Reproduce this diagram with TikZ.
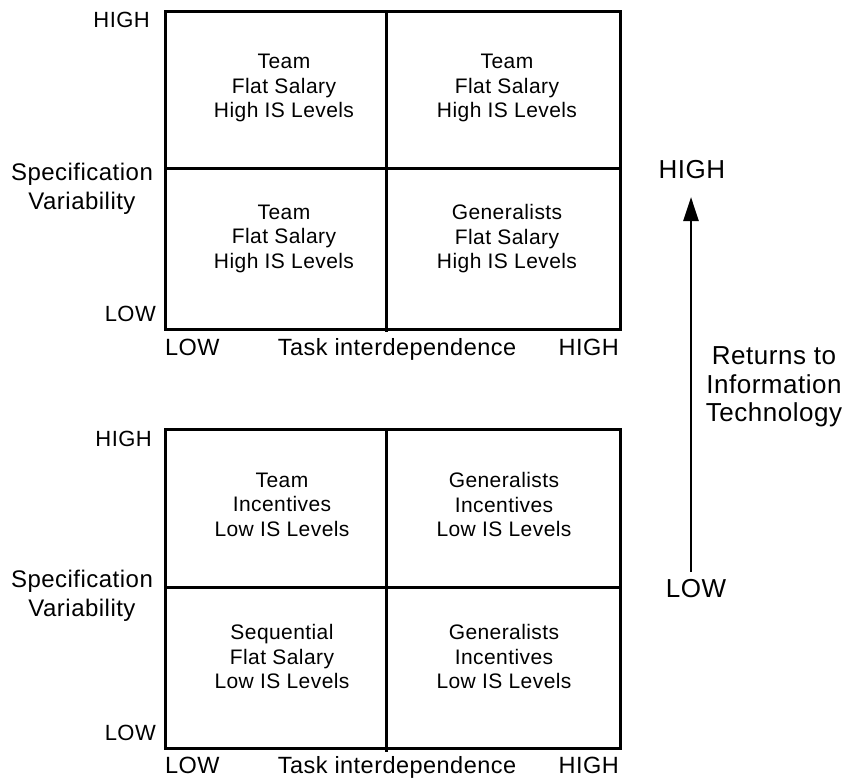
\documentclass[tikz,border=0pt]{standalone}
\usepackage{fontspec}
\setmainfont[LetterSpace=2]{Liberation Sans}
\usetikzlibrary{arrows.meta}
\begin{document}
\begin{tikzpicture}[x=1pt,y=-1pt,
  grid/.style={line width=3pt, line join=miter, line cap=rect},
  cell/.style={align=center, anchor=north, inner sep=0pt, font=\fontsize{21}{24.5}\selectfont},
  side/.style={inner sep=0pt, anchor=base east, font=\fontsize{22}{26}\selectfont},
  spec/.style={align=center, anchor=north, inner sep=0pt, font=\fontsize{24}{29}\selectfont},
  axis/.style={inner sep=0pt, font=\fontsize{23.5}{26}\selectfont},
  rlab/.style={inner sep=0pt, font=\fontsize{26}{28.5}\selectfont},
  arr/.style={line width=2.7pt, -{Triangle[length=24pt,width=15pt]}}]
\useasboundingbox (0,0) rectangle (852,780);

% ---------- top grid ----------
\coordinate (TA) at (165,11.5);
\coordinate (TB) at (620,329);
\draw[grid] (TA) rectangle (TB);
\draw[grid] (165,168.5) -- (620,168.5);
\draw[grid,line cap=butt] (386,11.5) -- (386,332);

\node[cell] (t11) at (284,54) {Team\\Flat Salary\\High IS Levels};
\node[cell] (t12) at (507,54) {Team\\Flat Salary\\High IS Levels};
\node[cell] (t21) at (284,204.5) {Team\\Flat Salary\\High IS Levels};
\node[cell] (t22) at (507,204.5) {Generalists\\Flat Salary\\High IS Levels};

\node[side] (tHigh) at (150,27) {HIGH};
\node[spec] (tSpec) at (82,163) {Specification\\Variability};
\node[side] (tLow) at (156,321) {LOW};
\node[axis,anchor=base west] (tXL) at (165,355) {LOW};
\node[axis,anchor=base] (tXM) at (397,355) {Task interdependence};
\node[axis,anchor=base east] (tXH) at (619,355) {HIGH};

% ---------- bottom grid ----------
\coordinate (BA) at (165,429.5);
\coordinate (BB) at (620,748);
\draw[grid] (BA) rectangle (BB);
\draw[grid] (165,587) -- (620,587);
\draw[grid,line cap=butt] (386,429.5) -- (386,752);

\node[cell] (b11) at (282,472.5) {Team\\Incentives\\Low IS Levels};
\node[cell] (b12) at (504,472.5) {Generalists\\Incentives\\Low IS Levels};
\node[cell] (b21) at (282,624.5) {Sequential\\Flat Salary\\Low IS Levels};
\node[cell] (b22) at (504,624.5) {Generalists\\Incentives\\Low IS Levels};

\node[side] (bHigh) at (152,446) {HIGH};
\node[spec] (bSpec) at (82,570) {Specification\\Variability};
\node[side] (bLow) at (156,740) {LOW};
\node[axis,anchor=base west] (bXL) at (165,773) {LOW};
\node[axis,anchor=base] (bXM) at (397,773) {Task interdependence};
\node[axis,anchor=base east] (bXH) at (619,773) {HIGH};

% ---------- right-hand scale ----------
\node[rlab,anchor=base] (rHigh) at (692,178) {HIGH};
\node[rlab,anchor=base] (rLow) at (696,597) {LOW};
\node[rlab,align=center,anchor=north] (rRet) at (774,346.5) {Returns to\\Information\\Technology};
\coordinate (arrS) at (691,572);
\coordinate (arrE) at (691,197);
\draw[arr] (arrS) -- (arrE);
\end{tikzpicture}
\end{document}
